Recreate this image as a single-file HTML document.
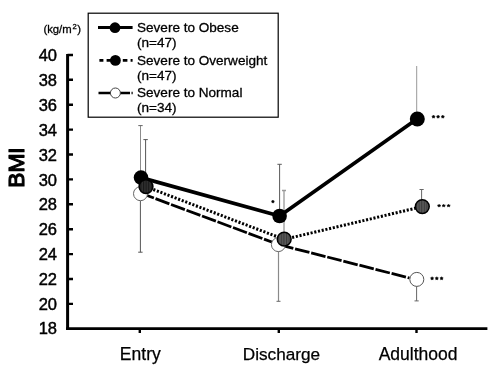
<!DOCTYPE html>
<html><head><meta charset="utf-8">
<style>
html,body{margin:0;padding:0;background:#fff;}
body{width:500px;height:378px;overflow:hidden;position:relative;font-family:"Liberation Sans",sans-serif;}
svg{position:absolute;left:0;top:0;will-change:transform;}
text{font-family:"Liberation Sans",sans-serif;fill:#000;}
</style></head><body>
<svg width="500" height="378" viewBox="0 0 500 378">
<defs><pattern id="hd" width="2.600" height="4" patternUnits="userSpaceOnUse"><rect width="2.600" height="4" fill="#303030"/><rect x="0" width="1.100" height="4" fill="#181818"/></pattern><pattern id="hz" width="2.600" height="4" patternUnits="userSpaceOnUse"><rect width="2.600" height="4" fill="#5a5a5a"/><rect x="0" width="1.100" height="4" fill="#3a3a3a"/></pattern></defs>
<rect width="500" height="378" fill="#fff"/>
<!-- axes -->
<path d="M67.600 54 V330" fill="none" stroke="#000" stroke-width="3"/><path d="M66.100 328.650 H487.400" fill="none" stroke="#000" stroke-width="2.700"/>
<g stroke="#000" stroke-width="2.400">
<path d="M67.500 55h5.500M67.500 79.800h5.500M67.500 104.700h5.500M67.500 129.600h5.500M67.500 154.500h5.500M67.500 179.400h5.500M67.500 204.300h5.500M67.500 229.200h5.500M67.500 254.100h5.500M67.500 279h5.500M67.500 303.900h5.500"/>
<path d="M139.800 328v5M278.800 328v5M416.500 328v5"/>
</g>
<g font-size="16.500" text-anchor="end" stroke="#000" stroke-width="0.450">
<text x="57" y="61.0">40</text><text x="57" y="85.9">38</text><text x="57" y="110.8">36</text><text x="57" y="135.7">34</text><text x="57" y="160.6">32</text><text x="57" y="185.5">30</text><text x="57" y="210.4">28</text><text x="57" y="235.3">26</text><text x="57" y="260.2">24</text><text x="57" y="285.1">22</text><text x="57" y="310.0">20</text><text x="57" y="334.0">18</text>
</g>
<text transform="translate(24.300 187.700) rotate(-90)" font-size="22.500" stroke="#000" stroke-width="1.200" stroke-linejoin="round" textLength="40.400" lengthAdjust="spacingAndGlyphs">BMI</text>
<g stroke="#000" stroke-width="0.300">
<text x="43.400" y="32.700" font-size="11.300">(kg/m</text><text x="72.400" y="29.400" font-size="7.700">2</text><text x="77.200" y="32.700" font-size="11.300">)</text>
</g>
<g font-size="17.200" text-anchor="middle" stroke="#000" stroke-width="0.250">
<text x="140.300" y="360" font-size="17.500">Entry</text><text x="281.500" y="360">Discharge</text><text x="418.100" y="360" font-size="17.500">Adulthood</text>
</g>
<!-- error bars -->
<g stroke-width="1" fill="none">
<path d="M140.500 125.500V177" stroke="#8c8c8c"/><path d="M138.300 125.600h4.400" stroke="#666"/>
<path d="M140.400 194V252.200" stroke="#555"/><path d="M138.200 252.200h4.400" stroke="#555"/>
<path d="M145.600 139.500V186M143.400 139.600h4.400" stroke="#555"/>
<path d="M279.600 164.300V215.800M277.400 164.300h4.400" stroke="#5a5a5a"/>
<path d="M278.500 244.700V301.200" stroke="#8a8a8a" stroke-width="1.200"/><path d="M276.500 301.300h4" stroke="#666"/>
<path d="M284 190.400V239M282 190.500h4" stroke="#999" stroke-width="1.300"/>
<path d="M416.700 66V119" stroke="#999"/>
<path d="M421.600 189.400V207M419.500 189.500h4.200" stroke="#666"/>
<path d="M416.600 279V300.900M414.500 300.900h4.200" stroke="#666"/>
</g>
<!-- lines -->
<path d="M143 194 L279 244.700" fill="none" stroke="#000" stroke-width="2.800" stroke-dasharray="14.800 1.740" stroke-dashoffset="3.180"/>
<path d="M279 244.700 L409.500 278" fill="none" stroke="#000" stroke-width="2.800" stroke-dasharray="14.800 1.800" stroke-dashoffset="0"/>
<circle cx="140.500" cy="193.700" r="7" fill="#fff" stroke="#666" stroke-width="1"/>
<circle cx="278.400" cy="244.600" r="7" fill="#fff" stroke="#666" stroke-width="1"/>
<path d="M146.200 186.800 L284.200 239.400 L422.300 206.600" fill="none" stroke="#000" stroke-width="3" stroke-dasharray="2.100 1.700"/>
<path d="M141 177.600 L279.600 216 L417.300 118.700" fill="none" stroke="#000" stroke-width="3.700" stroke-linejoin="miter"/>
<!-- markers -->
<circle cx="416.800" cy="279.400" r="7" fill="#fff" stroke="#555" stroke-width="1"/>
<circle cx="141" cy="177.600" r="7.300" fill="#000"/>
<circle cx="279.600" cy="216" r="7.300" fill="#000"/>
<circle cx="417.300" cy="119" r="7.500" fill="#000"/>
<circle cx="146" cy="186.600" r="6.900" fill="url(#hd)" stroke="#000" stroke-width="1.500"/>
<circle cx="284.200" cy="239.200" r="6.900" fill="url(#hz)" stroke="#000" stroke-width="1.500"/>
<circle cx="422.300" cy="206.600" r="6.900" fill="url(#hz)" stroke="#000" stroke-width="1.500"/>
<!-- stars -->
<g fill="#000">
<polygon points="433.50,115.00 434.09,115.89 435.12,116.17 434.45,117.01 434.50,118.08 433.50,117.70 432.50,118.08 432.55,117.01 431.88,116.17 432.91,115.89" stroke="#000" stroke-width="0.5" stroke-linejoin="round"/><polygon points="438.10,115.00 438.69,115.89 439.72,116.17 439.05,117.01 439.10,118.08 438.10,117.70 437.10,118.08 437.15,117.01 436.48,116.17 437.51,115.89" stroke="#000" stroke-width="0.5" stroke-linejoin="round"/><polygon points="442.80,115.00 443.39,115.89 444.42,116.17 443.75,117.01 443.80,118.08 442.80,117.70 441.80,118.08 441.85,117.01 441.18,116.17 442.21,115.89" stroke="#000" stroke-width="0.5" stroke-linejoin="round"/>
<polygon points="439.10,204.26 439.69,205.05 440.81,205.26 440.05,205.95 440.16,206.86 439.10,206.50 438.04,206.86 438.15,205.95 437.39,205.26 438.51,205.05" stroke="#000" stroke-width="0.5" stroke-linejoin="round"/><polygon points="443.70,204.26 444.29,205.05 445.41,205.26 444.65,205.95 444.76,206.86 443.70,206.50 442.64,206.86 442.75,205.95 441.99,205.26 443.11,205.05" stroke="#000" stroke-width="0.5" stroke-linejoin="round"/><polygon points="448.60,204.26 449.19,205.05 450.31,205.26 449.55,205.95 449.66,206.86 448.60,206.50 447.54,206.86 447.65,205.95 446.89,205.26 448.01,205.05" stroke="#000" stroke-width="0.5" stroke-linejoin="round"/>
<polygon points="432.10,276.70 432.69,277.59 433.72,277.87 433.05,278.71 433.10,279.78 432.10,279.40 431.10,279.78 431.15,278.71 430.48,277.87 431.51,277.59" stroke="#000" stroke-width="0.5" stroke-linejoin="round"/><polygon points="436.80,276.70 437.39,277.59 438.42,277.87 437.75,278.71 437.80,279.78 436.80,279.40 435.80,279.78 435.85,278.71 435.18,277.87 436.21,277.59" stroke="#000" stroke-width="0.5" stroke-linejoin="round"/><polygon points="441.60,276.70 442.19,277.59 443.22,277.87 442.55,278.71 442.60,279.78 441.60,279.40 440.60,279.78 440.65,278.71 439.98,277.87 441.01,277.59" stroke="#000" stroke-width="0.5" stroke-linejoin="round"/>
<polygon points="272.90,200.00 273.43,200.87 274.42,201.11 273.76,201.88 273.84,202.89 272.90,202.50 271.96,202.89 272.04,201.88 271.38,201.11 272.37,200.87" stroke="#000" stroke-width="0.5" stroke-linejoin="round"/>
</g>
<!-- legend -->
<rect x="88.200" y="13.200" width="190" height="104" fill="#fff" stroke="#000" stroke-width="1.200"/>
<path d="M98 27.500h34.600" stroke="#000" stroke-width="2.800"/><circle cx="115" cy="27.700" r="5.400" fill="#000"/>
<path d="M99.400 60.400h4M106.600 60.400h5M122.800 60.400h4.600M130.600 60.400h2" stroke="#000" stroke-width="2.600"/><circle cx="115.400" cy="60.400" r="5.400" fill="#000"/>
<path d="M98.500 93h31.500M131.500 93h1.200" stroke="#000" stroke-width="2.600"/><circle cx="115.400" cy="93" r="5" fill="#fff" stroke="#444" stroke-width="1"/>
<g font-size="13.550" stroke="#000" stroke-width="0.300">
<text x="137" y="32.300">Severe to Obese</text><text x="137" y="47.200">(n=47)</text>
<text x="137" y="64.500">Severe to Overweight</text><text x="137" y="80">(n=47)</text>
<text x="137" y="97">Severe to Normal</text><text x="137" y="112.400">(n=34)</text>
</g>
</svg>
</body></html>
